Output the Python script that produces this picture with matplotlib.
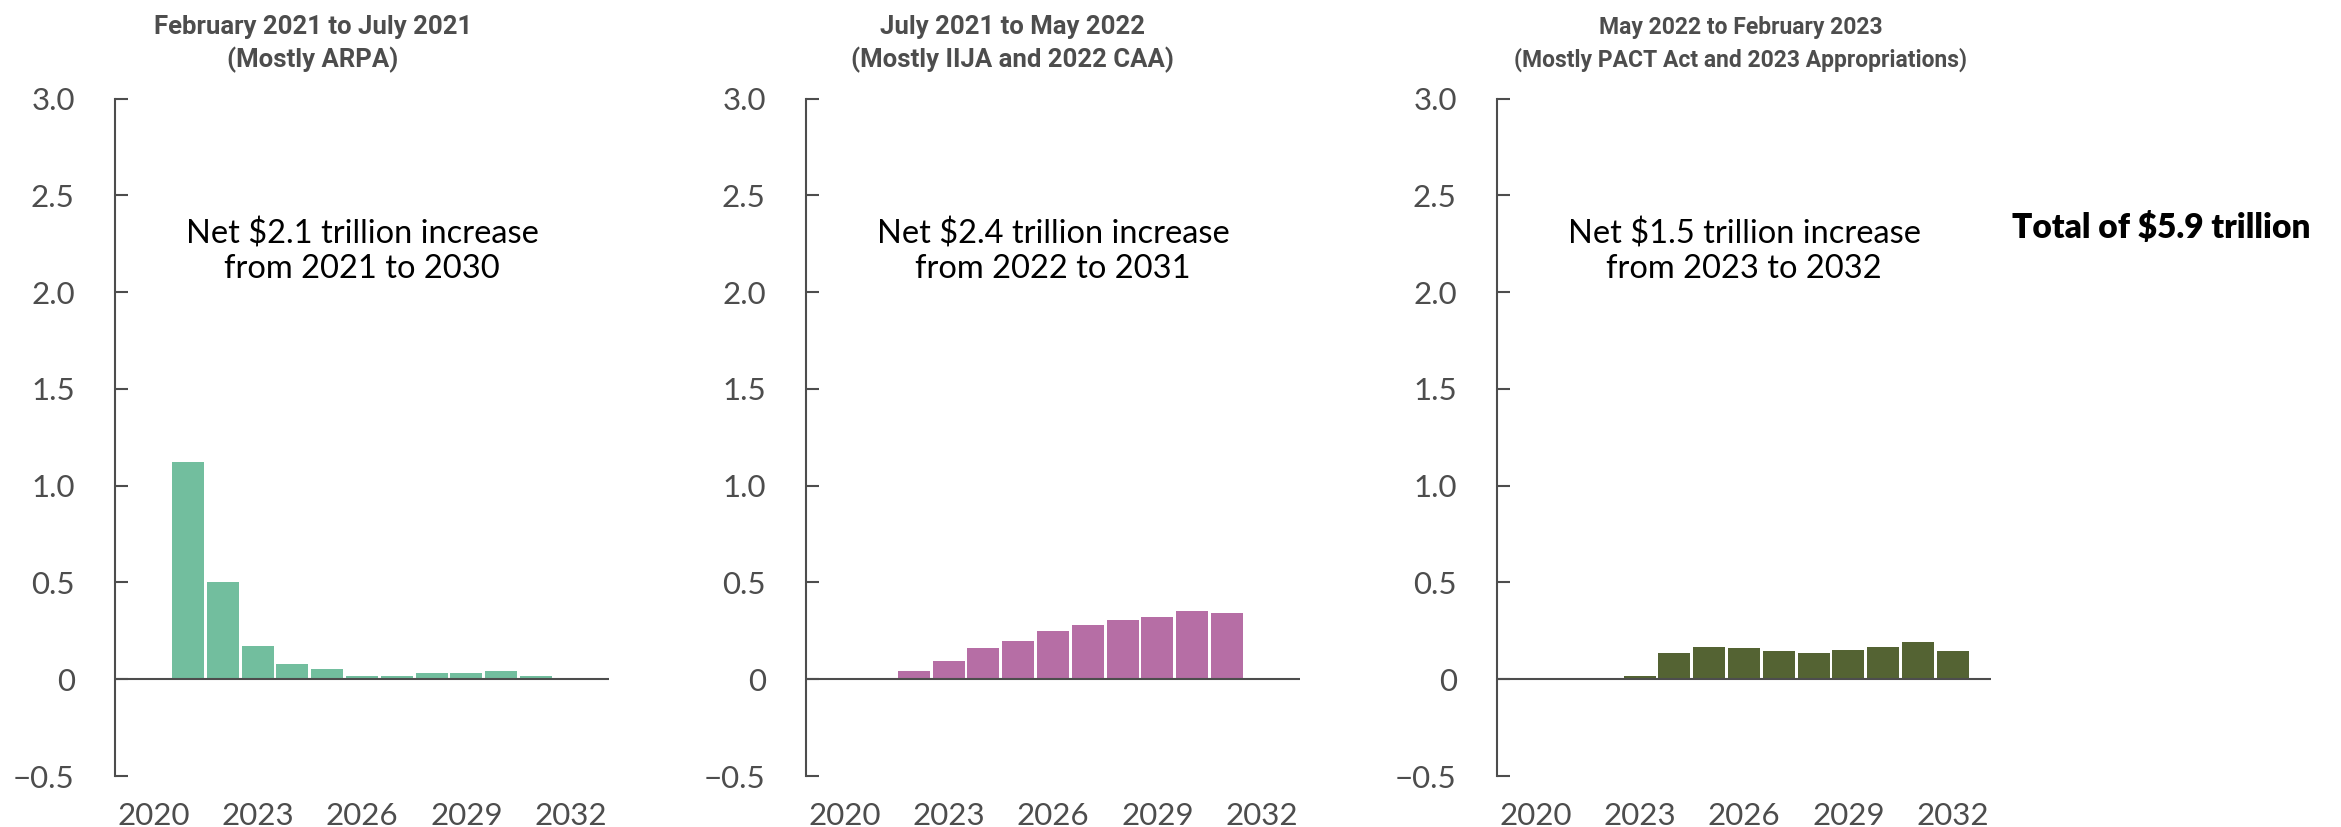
import matplotlib.pyplot as plt

years = list(range(2020, 2033))

arpa = [0, 1.12, 0.50, 0.17, 0.08, 0.052, 0.016, 0.016, 0.03, 0.03, 0.044, 0.016, 0]
iija = [0, 0, 0.044, 0.095, 0.16, 0.20, 0.25, 0.28, 0.305, 0.32, 0.35, 0.343, 0]
pact = [0, 0, 0, 0.015, 0.133, 0.169, 0.163, 0.147, 0.133, 0.152, 0.169, 0.19, 0.147]

titles = ["February 2021 to July 2021\n(Mostly ARPA)",
          "July 2021 to May 2022\n(Mostly IIJA and 2022 CAA)",
          "May 2022 to February 2023\n(Mostly PACT Act and 2023 Appropriations)"]
notes = ["Net $2.1 trillion increase\nfrom 2021 to 2030",
         "Net $2.4 trillion increase\nfrom 2022 to 2031",
         "Net $1.5 trillion increase\nfrom 2023 to 2032"]
colors = ["#72BE9E", "#B66EA5", "#546333"]
series = [arpa, iija, pact]

yticks = [-0.5, 0, 0.5, 1.0, 1.5, 2.0, 2.5, 3.0]
ytick_labels = ["\u22120.5", "0", "0.5", "1.0", "1.5", "2.0", "2.5", "3.0"]
xticks = [2020, 2023, 2026, 2029, 2032]

plt.rcParams['font.family'] = ['Lato', 'DejaVu Sans']
grey = "#4d4d4d"

W, H = 2341, 827
fig = plt.figure(figsize=(W / 100, H / 100), dpi=100)

lefts = [115, 806, 1497]
title_x = [313, 1012, 1741]
title_size = [18.5, 18.5, 16.5]
ax_w = 494
bottom, top = 776, 98.5

for i in range(3):
    ax = fig.add_axes([lefts[i] / W, 1 - bottom / H, ax_w / W, (bottom - top) / H])
    ax.bar(years, series[i], width=0.92, color=colors[i], zorder=2)
    ax.axhline(0, color=grey, lw=1.5, zorder=3)
    ax.set_xlim(2018.9, 2033.1)
    ax.set_ylim(-0.5, 3.0)
    for s in ["top", "right", "bottom"]:
        ax.spines[s].set_visible(False)
    ax.spines["left"].set_color(grey)
    ax.spines["left"].set_linewidth(1.5)
    ax.set_yticks(yticks)
    ax.set_yticklabels(ytick_labels)
    ax.set_xticks(xticks)
    ax.tick_params(axis="y", direction="in", length=9, width=1.5, color=grey,
                   labelsize=22.5, labelcolor=grey, pad=29)
    ax.tick_params(axis="x", length=0, labelsize=22.5, labelcolor=grey, pad=19)
    ax.text(0.5, 0.775, notes[i], transform=ax.transAxes, ha="center", va="center",
            fontsize=23.5, color="black", linespacing=1.2)
    fig.text(title_x[i] / W, 1 - 44 / H, titles[i], ha="center", va="center",
             fontsize=title_size[i], fontweight="bold", color=grey, linespacing=1.4,
             family=["Roboto", "DejaVu Sans"])

fig.text(2311 / W, 1 - 228 / H, "Total of $5.9 trillion", ha="right", va="center",
         fontsize=24, fontweight="heavy", color="black")

fig.savefig("out.png", dpi=100)
